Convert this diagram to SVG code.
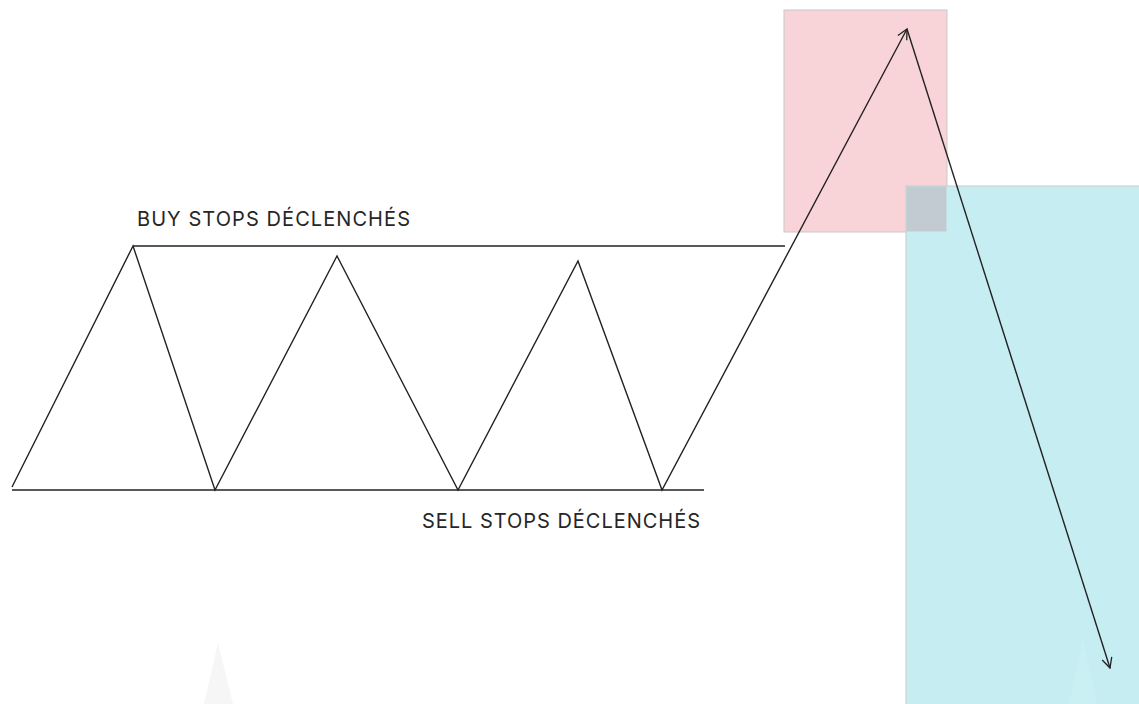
<svg xmlns="http://www.w3.org/2000/svg" width="1139" height="704" viewBox="0 0 1139 704">
<style>
.zone{stroke:#c9c9c9;stroke-width:1}
.line{stroke:#222;stroke-width:1.4;fill:none}
.lbl{font-family:Inter,"Liberation Sans",sans-serif;font-size:20px;fill:#262626}
</style>
<defs>
<marker id="arr" viewBox="0 0 12 12" refX="11" refY="6" markerWidth="12" markerHeight="12" markerUnits="userSpaceOnUse" orient="auto">
<path d="M1,1 L11,6 L1,11" fill="none" stroke="#222" stroke-width="1.3"/>
</marker>
</defs>
<rect width="1139" height="704" fill="#fff"/>
<polygon points="218,643 204,704 233,704" fill="#f6f6f6"/>
<g id="zone-high">
<rect class="zone" x="784" y="10" width="163" height="222" fill="#f8d3d7"/>
</g>
<g id="zone-low">
<rect class="zone" x="906" y="186" width="240" height="530" fill="#c6eef2"/>
<rect x="906.5" y="186.5" width="40" height="45" fill="#c3cbd2"/>
</g>
<polygon points="1083,640 1069,704 1097,704" fill="#cbf0f3"/>
<g id="levels">
<line class="line" x1="133" y1="246" x2="785" y2="246"/>
<line class="line" x1="12" y1="490" x2="704" y2="490"/>
</g>
<g id="connectors">
<polyline class="line" points="12,487 133,246 215,490 337,256 458,490 578,261 662,490 907,29" marker-end="url(#arr)"/>
<line class="line" x1="907" y1="29" x2="1110" y2="668" marker-end="url(#arr)"/>
</g>
<g id="label-buy"><text class="lbl" x="137" y="226" textLength="273" lengthAdjust="spacing">BUY STOPS DÉCLENCHÉS</text></g>
<g id="label-sell"><text class="lbl" x="422" y="528" textLength="278" lengthAdjust="spacing">SELL STOPS DÉCLENCHÉS</text></g>
</svg>
